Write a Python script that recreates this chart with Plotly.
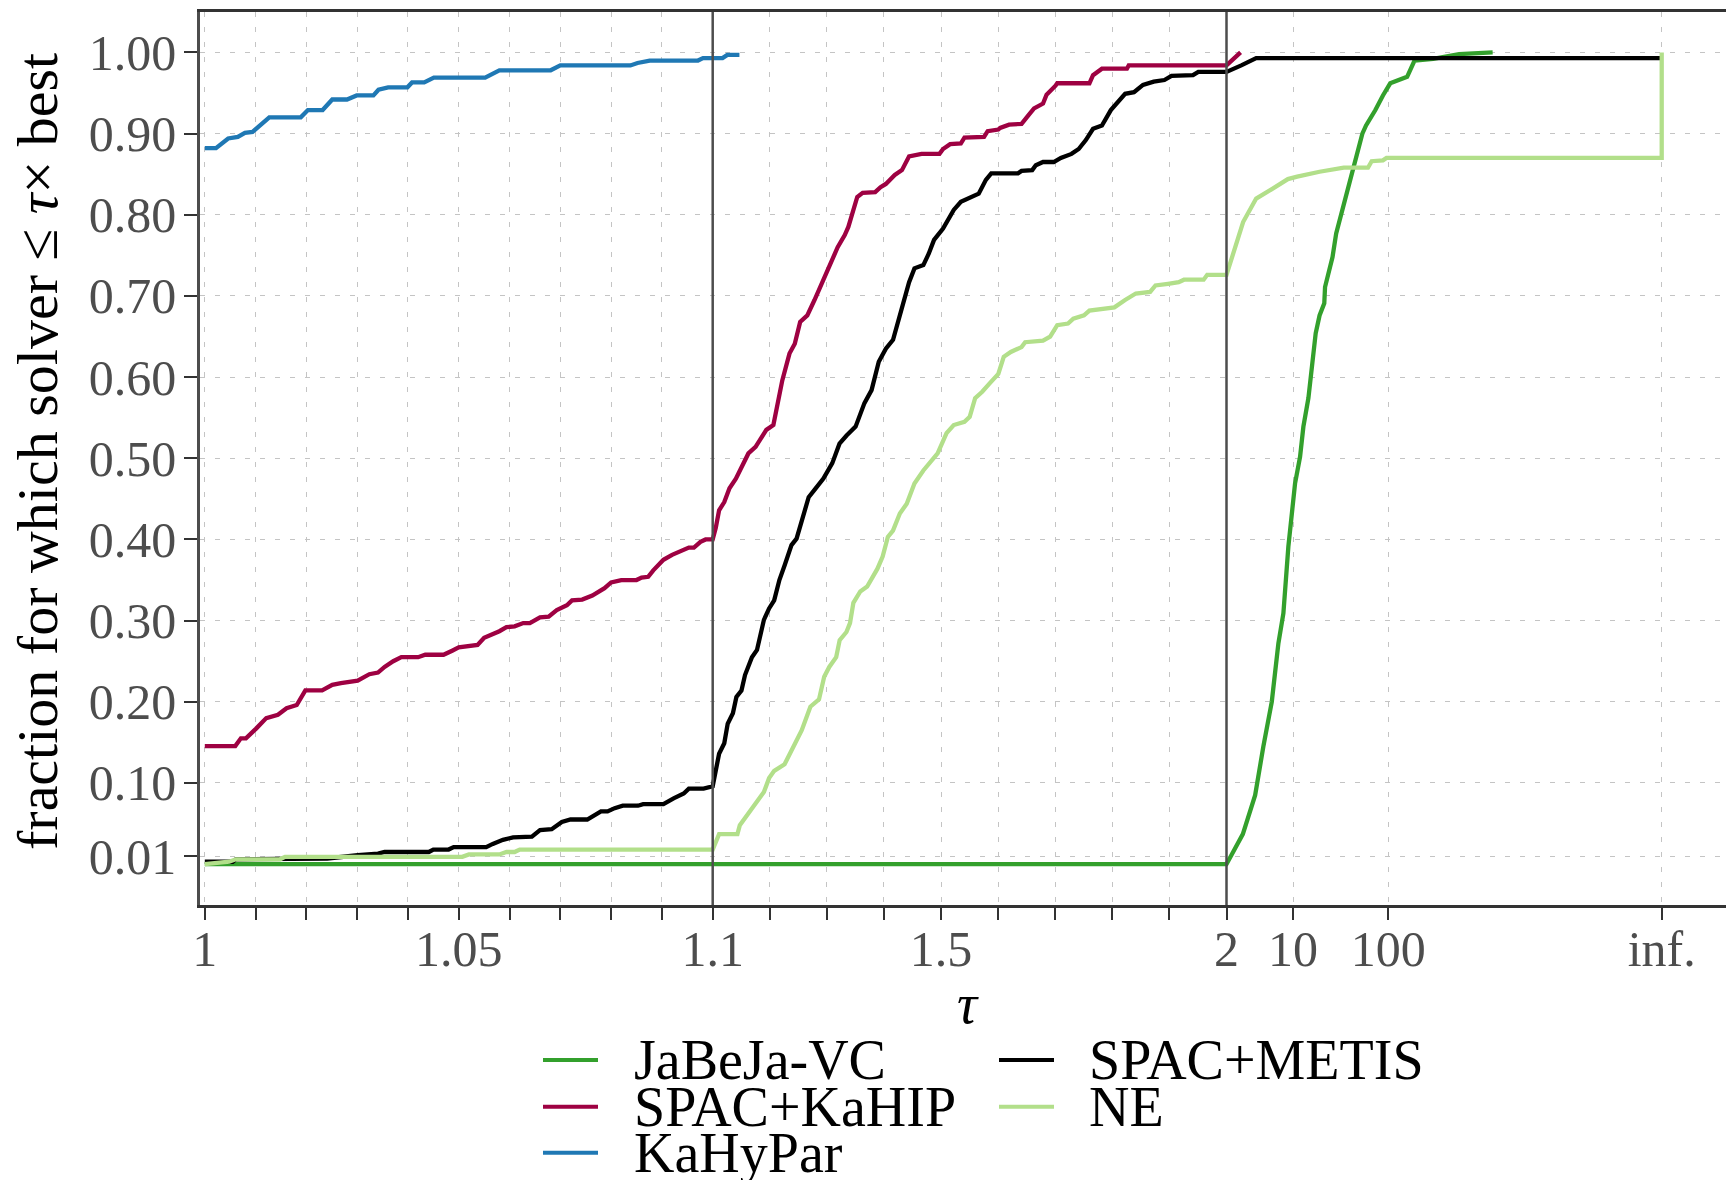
import math
import plotly.graph_objects as go

INF = math.inf

# ---------------- data (tau, fraction) ----------------
jabeja_tau = [1.0, 2.0, 2.97, 4.0, 4.88, 5.98, 7.02, 7.92, 8.93, 10.5, 11.86, 12.85, 14.5, 17.3,
              19.0, 21.3, 21.7, 26.0, 28.4, 34.1, 40.8, 46.8, 53.5, 58.5, 73.3, 88, 105, 158, 181,
              189, 296, 556, 1251]
jabeja_frac = [0.0, 0.0, 0.037, 0.085, 0.145, 0.200, 0.272, 0.309, 0.391, 0.469, 0.502, 0.539, 0.574,
               0.654, 0.676, 0.691, 0.711, 0.748, 0.777, 0.812, 0.847, 0.875, 0.900, 0.910, 0.929,
               0.947, 0.962, 0.970, 0.986, 0.990, 0.992, 0.998, 1.0]

kahip_tau = [1.0, 1.0060, 1.0071, 1.0081, 1.0101, 1.0121, 1.0144, 1.0161, 1.0181, 1.0198, 1.0231,
             1.0251, 1.0268, 1.0301, 1.0324, 1.0341, 1.0354, 1.0371, 1.0387, 1.0420, 1.0434, 1.0470,
             1.0487, 1.0500, 1.0537, 1.0550, 1.0580, 1.0594, 1.0610, 1.0627, 1.0640, 1.0660, 1.0677,
             1.0693, 1.0713, 1.0723, 1.0743, 1.0763, 1.0787, 1.0800, 1.0820, 1.0850, 1.0860, 1.0873,
             1.0883, 1.0903, 1.0920, 1.0936, 1.0953, 1.0963, 1.0976, 1.0986, 1.1,
             1.1053, 1.1112, 1.1203, 1.1294, 1.1406, 1.1534, 1.1625, 1.1751, 1.1939, 1.2063, 1.2126,
             1.2219, 1.2345, 1.2438, 1.2532, 1.2657, 1.2783, 1.2939, 1.3065, 1.3189, 1.3313, 1.3376,
             1.3532, 1.3627, 1.3846, 1.3940, 1.4033, 1.4189, 1.4315, 1.4440, 1.4658, 1.4972, 1.5035,
             1.5159, 1.5347, 1.5410, 1.5753, 1.5816, 1.6003, 1.6035, 1.6191, 1.6410, 1.6536, 1.6629,
             1.6786, 1.6848, 1.7005, 1.7035, 1.7599, 1.7662, 1.7818, 1.8256, 1.8287, 2.0, 2.81]
kahip_frac = [0.1455, 0.1455, 0.155, 0.155, 0.167, 0.180, 0.184, 0.192, 0.196, 0.214, 0.214,
              0.221, 0.223, 0.226, 0.234, 0.236, 0.243, 0.250, 0.255, 0.255, 0.258, 0.258,
              0.263, 0.267, 0.270, 0.279, 0.287, 0.292, 0.293, 0.297, 0.297, 0.304, 0.305,
              0.313, 0.319, 0.325, 0.326, 0.331, 0.340, 0.347, 0.350, 0.350, 0.353, 0.354,
              0.362, 0.375, 0.381, 0.385, 0.390, 0.390, 0.397, 0.400, 0.400,
              0.414, 0.436, 0.446, 0.463, 0.475, 0.492, 0.506, 0.514, 0.535, 0.541, 0.561,
              0.596, 0.629, 0.641, 0.668, 0.676, 0.695, 0.721, 0.740, 0.760, 0.775, 0.785,
              0.822, 0.827, 0.828, 0.834, 0.838, 0.849, 0.855, 0.872, 0.875, 0.875, 0.881,
              0.887, 0.888, 0.895, 0.896, 0.903, 0.905, 0.907, 0.911, 0.912, 0.923, 0.931,
              0.937, 0.948, 0.959, 0.962, 0.962, 0.972, 0.980, 0.980, 0.984, 0.984, 1.0]

kahypar_tau = [1.0, 1.0022, 1.0046, 1.0065, 1.0079, 1.0094, 1.0127, 1.0189, 1.0203, 1.0232, 1.0251,
               1.0280, 1.0299, 1.0332, 1.0342, 1.0361, 1.0399, 1.0408, 1.0432, 1.0451, 1.0552,
               1.0580, 1.0681, 1.0700, 1.0838, 1.0852, 1.0876, 1.0971, 1.0981, 1.1172, 1.1256, 1.1468]
kahypar_frac = [0.882, 0.882, 0.894, 0.896, 0.901, 0.902, 0.920, 0.920, 0.929, 0.929, 0.942,
                0.942, 0.947, 0.947, 0.954, 0.957, 0.957, 0.963, 0.963, 0.969, 0.969,
                0.978, 0.978, 0.984, 0.984, 0.987, 0.990, 0.990, 0.993, 0.993, 0.997, 0.997]

metis_tau = [1.0, 1.0055, 1.0061, 1.0114, 1.0241, 1.0301, 1.0341, 1.0354, 1.0441, 1.0450, 1.0480,
             1.0490, 1.0554, 1.0567, 1.0587, 1.0607, 1.0644, 1.0660, 1.0683, 1.0703, 1.0720, 1.0753,
             1.0780, 1.0793, 1.0807, 1.0823, 1.0853, 1.0863, 1.0903, 1.0923, 1.0943, 1.0953, 1.0982,
             1.1, 1.1053, 1.1112, 1.1203, 1.1263, 1.1354, 1.1415, 1.1504, 1.1566, 1.1687, 1.1776,
             1.1897, 1.1988, 1.2077, 1.2168, 1.2259, 1.2380, 1.2469, 1.2590, 1.2681, 1.2783, 1.2939,
             1.3095, 1.3221, 1.3345, 1.3503, 1.3658, 1.3783, 1.3909, 1.4033, 1.4159, 1.4252, 1.4347,
             1.4440, 1.4534, 1.4690, 1.4784, 1.4877, 1.5035, 1.5159, 1.5222, 1.5347, 1.5534, 1.5660,
             1.5785, 1.5879, 1.6348, 1.6410, 1.6597, 1.6660, 1.6786, 1.6974, 1.7098, 1.7285, 1.7411,
             1.7536, 1.7662, 1.7818, 1.7974, 1.8068, 1.8224, 1.8380, 1.8537, 1.8725, 1.8912, 1.9037,
             1.9413, 1.9506, 2.0, 2.86, 4.1, INF]
metis_frac = [0.003, 0.003, 0.006, 0.006, 0.007, 0.011, 0.013, 0.015, 0.015, 0.018, 0.018,
              0.021, 0.021, 0.025, 0.030, 0.033, 0.034, 0.042, 0.043, 0.052, 0.055, 0.055,
              0.065, 0.065, 0.069, 0.072, 0.072, 0.074, 0.074, 0.081, 0.087, 0.093, 0.093,
              0.096, 0.116, 0.136, 0.149, 0.173, 0.186, 0.206, 0.214, 0.233, 0.255, 0.264,
              0.301, 0.315, 0.325, 0.350, 0.368, 0.393, 0.401, 0.432, 0.452, 0.461, 0.475,
              0.494, 0.518, 0.528, 0.539, 0.568, 0.584, 0.619, 0.635, 0.646, 0.670, 0.695,
              0.717, 0.734, 0.738, 0.752, 0.769, 0.783, 0.797, 0.806, 0.816, 0.822, 0.826,
              0.843, 0.851, 0.851, 0.854, 0.855, 0.861, 0.865, 0.865, 0.870, 0.875, 0.881,
              0.892, 0.906, 0.910, 0.929, 0.937, 0.949, 0.951, 0.960, 0.964, 0.966, 0.971,
              0.972, 0.976, 0.976, 0.984, 0.993, 0.993]

ne_tau = [1.0, 1.0048, 1.0061, 1.0148, 1.0158, 1.0507, 1.0520, 1.0580, 1.0594, 1.0610, 1.0620, 1.1,
          1.1112, 1.1433, 1.1475, 1.1687, 1.1897, 1.1988, 1.2077, 1.2259, 1.2410, 1.2560, 1.2711,
          1.2862, 1.2953, 1.3042, 1.3163, 1.3224, 1.3343, 1.3405, 1.3464, 1.3585, 1.3706, 1.3886,
          1.3977, 1.4068, 1.4158, 1.4278, 1.4399, 1.4534, 1.4690, 1.4846, 1.4940, 1.5096, 1.5222,
          1.5410, 1.5502, 1.5597, 1.5721, 1.5847, 1.6003, 1.6098, 1.6222, 1.6410, 1.6473, 1.6786,
          1.6911, 1.7035, 1.7224, 1.7317, 1.7504, 1.7599, 1.8036, 1.8224, 1.8411, 1.8662, 1.8756,
          1.8975, 1.9163, 1.9255, 1.9600, 1.9662, 2.0, 2.99, 4.1, 5.88, 8.83, 11.06, 15.1, 19.0,
          34.1, 61.3, 67, 88, 96, INF, INF]
ne_frac = [0.0, 0.003, 0.006, 0.006, 0.009, 0.009, 0.012, 0.012, 0.015, 0.015, 0.018, 0.018,
           0.037, 0.037, 0.048, 0.069, 0.089, 0.106, 0.115, 0.123, 0.143, 0.165, 0.194,
           0.203, 0.231, 0.243, 0.255, 0.276, 0.286, 0.297, 0.322, 0.336, 0.342, 0.364,
           0.379, 0.403, 0.411, 0.432, 0.444, 0.469, 0.485, 0.498, 0.506, 0.531, 0.541,
           0.545, 0.551, 0.574, 0.582, 0.592, 0.604, 0.625, 0.631, 0.637, 0.643, 0.645,
           0.650, 0.664, 0.666, 0.672, 0.676, 0.682, 0.686, 0.695, 0.703, 0.705, 0.713,
           0.715, 0.717, 0.720, 0.720, 0.726, 0.726, 0.791, 0.820, 0.831, 0.844, 0.847, 0.851, 0.853,
           0.858, 0.858, 0.866, 0.867, 0.870, 0.870, 1.0]

series_names = ["JaBeJa-VC", "SPAC+KaHIP", "KaHyPar", "SPAC+METIS", "NE"]
series_colors = ["#33a02c", "#9e0142", "#1f78b4", "#000000", "#b2df8a"]
series_taus = [jabeja_tau, kahip_tau, kahypar_tau, metis_tau, ne_tau]
series_fracs = [jabeja_frac, kahip_frac, kahypar_frac, metis_frac, ne_frac]

x_tick_taus = [1.0, 1.01, 1.02, 1.03, 1.04, 1.05, 1.06, 1.07, 1.08, 1.09, 1.1,
               1.2, 1.3, 1.4, 1.5, 1.6, 1.7, 1.8, 1.9, 2.0, 10, 100, INF]
x_tick_labels = ["1", "", "", "", "", "1.05", "", "", "", "", "1.1",
                 "", "", "", "1.5", "", "", "", "", "2", "10", "100", "inf."]
y_tick_vals = [0.01, 0.1, 0.2, 0.3, 0.4, 0.5, 0.6, 0.7, 0.8, 0.9, 1.0]
y_tick_labels = ["0.01", "0.10", "0.20", "0.30", "0.40", "0.50", "0.60", "0.70", "0.80", "0.90", "1.00"]

# ---------------- piecewise x scale ----------------
SEG2_W = 513.9 / 508.0
LOG_W = 95.2 / 508.0
INF_POS = (1661.7 - 204.5) / 508.0


def xpos(t):
    if t == INF:
        return INF_POS
    if t <= 1.1:
        return (t - 1.0) / 0.1
    if t <= 2.0:
        return 1.0 + (t - 1.1) / 0.9 * SEG2_W
    return 1.0 + SEG2_W + math.log10(t / 2.0) * LOG_W


# page has an 8px body margin: figure is drawn at (8, 8) in the screenshot
OFF = 8
W, H = 1734 - OFF, 1180 - OFF
PL, PR, PT, PB = 200 - OFF, 1734 - OFF, 12 - OFF, 905 - OFF


def px_x(px):
    return (px - OFF - PL) / (PR - PL)


def px_y(py):
    return (PB - (py - OFF)) / (PB - PT)


FONT = "Liberation Serif"
FS_TICK = 50
FS_LEG = 56
FS_TITLE = 58

fig = go.Figure()
for name, color, taus, fr in zip(series_names, series_colors, series_taus, series_fracs):
    fig.add_trace(go.Scatter(
        x=[xpos(t) for t in taus], y=fr, mode="lines", name=name,
        line=dict(color=color, width=4.3), showlegend=False, hoverinfo="skip"))

# separators at 1.1 and 2
for t in (1.1, 2.0):
    fig.add_shape(type="line", xref="x", yref="paper", x0=xpos(t), x1=xpos(t), y0=0, y1=1,
                  line=dict(color="#4d4d4d", width=2.5), layer="above")

# manual legend (two columns)
legend_rows = [1060, 1106.7, 1152.7]
legend_cols = [(543, 598, 632), (999, 1054, 1087)]
slots = [(0, 0), (0, 1), (0, 2), (1, 0), (1, 1)]
for (ci, ri), name, color in zip(slots, series_names, series_colors):
    x0, x1, xt = legend_cols[ci]
    yy = px_y(legend_rows[ri])
    fig.add_shape(type="line", xref="paper", yref="paper", x0=px_x(x0), x1=px_x(x1), y0=yy, y1=yy,
                  line=dict(color=color, width=4))
    fig.add_annotation(xref="paper", yref="paper", x=px_x(xt), y=yy, text=name, showarrow=False,
                       xanchor="left", yanchor="middle",
                       font=dict(family=FONT, size=FS_LEG, color="black"))

# axis titles
fig.add_annotation(xref="paper", yref="paper", x=px_x(968), y=px_y(1004), text="<i>τ</i>",
                   showarrow=False, xanchor="center", yanchor="middle",
                   font=dict(family=FONT, size=FS_LEG, color="black"))
fig.add_annotation(xref="paper", yref="paper", x=px_x(38), y=px_y(452),
                   text="fraction for which solver ≤ <i>τ</i>× best", textangle=-90,
                   showarrow=False, xanchor="center", yanchor="middle",
                   font=dict(family=FONT, size=FS_TITLE, color="black"))

fig.update_layout(
    width=W, height=H,
    margin=dict(l=PL, r=W - PR, t=PT, b=H - PB, pad=0),
    paper_bgcolor="white", plot_bgcolor="white",
    font=dict(family=FONT, size=FS_TICK, color="#4d4d4d"),
    xaxis=dict(
        range=[-4.8 / 508.0, (1734 - 204.5) / 508.0],
        tickmode="array", tickvals=[xpos(t) for t in x_tick_taus], ticktext=x_tick_labels,
        ticks="outside", ticklen=12, tickwidth=2.2, tickcolor="#333333",
        tickfont=dict(family=FONT, size=FS_TICK, color="#4d4d4d"),
        ticklabelstandoff=-14,
        showgrid=True, gridcolor="#c4c4c4", gridwidth=1.4, griddash="5px,10px",
        showline=True, linecolor="#333333", linewidth=2.5, mirror=True,
        zeroline=False, fixedrange=True,
    ),
    yaxis=dict(
        range=[-0.0503, 1.0498],
        tickmode="array", tickvals=y_tick_vals, ticktext=y_tick_labels,
        ticks="outside", ticklen=13, tickwidth=2.2, tickcolor="#333333",
        tickfont=dict(family=FONT, size=FS_TICK, color="#4d4d4d"),
        ticklabelstandoff=-2,
        showgrid=True, gridcolor="#c4c4c4", gridwidth=1.4, griddash="5px,10px",
        showline=True, linecolor="#4d4d4d", linewidth=2.5,
        zeroline=False, fixedrange=True,
    ),
)

fig.write_html("out.html")
